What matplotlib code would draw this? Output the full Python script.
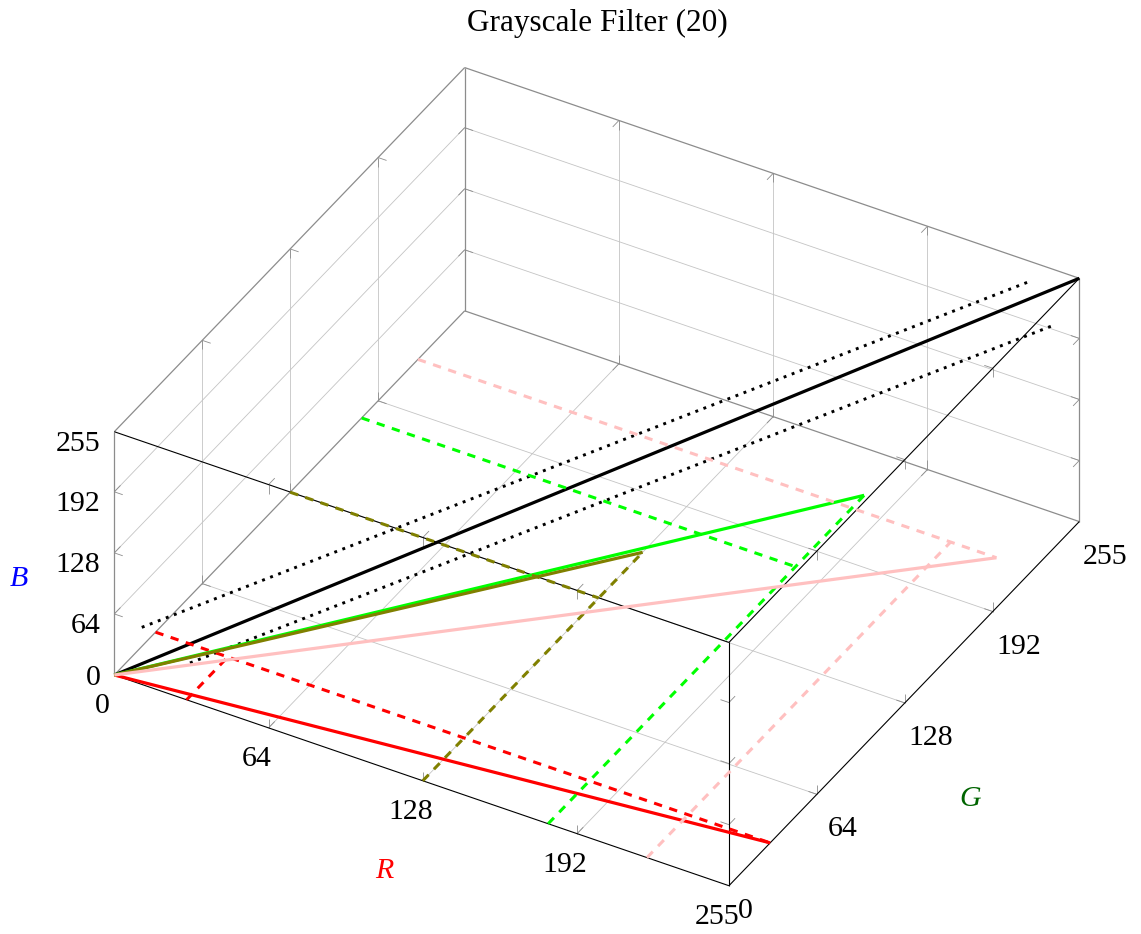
import numpy as np
import matplotlib
matplotlib.use("Agg")
import matplotlib.pyplot as plt
from mpl_toolkits.mplot3d import proj3d
from matplotlib.transforms import IdentityTransform

# ---------------- data ----------------
title = "Grayscale Filter (20)"
tick_values = [0, 64, 128, 192, 255]
axis_labels = ["R", "G", "B"]
axis_label_colors = ["#ff0000", "#006400", "#0000ff"]

gray_start = [0, 0, 0]
gray_end = [255, 255, 255]
tol_upper_start = [0, 20, 20]
tol_upper_end = [235, 255, 235]
tol_lower_start = [20, 20, 0]
tol_lower_end = [255, 235, 235]

series_r = [255, 180, 128, 240]
series_g = [30, 230, 160, 221]
series_b = [0, 0, 0, 0]
series_colors = ["#ff0000", "#00ff00", "#808000", "#ffc0c0"]

# ---------------- style ----------------
plt.rcParams["font.family"] = ["Liberation Serif", "DejaVu Serif"]
plt.rcParams["lines.scale_dashes"] = False
plt.rcParams["lines.solid_capstyle"] = "butt"
plt.rcParams["lines.dash_capstyle"] = "butt"

W, H = 1141, 934
fig = plt.figure(figsize=(W / 100, H / 100), dpi=100)
ax = fig.add_axes([0, 0, 1, 1], projection="3d", proj_type="ortho")
ax.computed_zorder = False
ax.set_xlim(0, 255)
ax.set_ylim(0, 255)
ax.set_zlim(0, 255)
ax.set_box_aspect((1.0, 0.9925, 0.4278))
ax.view_init(elev=36.65, azim=-60.13)
ax.set_axis_off()


def to_disp(p):
    xs, ys, _ = proj3d.proj_transform(p[0], p[1], p[2], ax.get_proj())
    return ax.transData.transform((xs, ys))


# fit axes placement so the box lands where the reference has it
fig.canvas.draw()
uO = ax.transAxes.inverted().transform(to_disp((0, 0, 0)))
uC = ax.transAxes.inverted().transform(to_disp((255, 255, 255)))
tO = (114.3, H - 675.0)
tC = (1079.3, H - 278.3)
S = (tC[0] - tO[0]) / (uC[0] - uO[0])
x0 = tO[0] - S * uO[0]
y0 = tO[1] - S * uO[1]
ax.set_position([x0 / W, y0 / H, S / W, S / H])
fig.canvas.draw()

lo, hi = tick_values[0], tick_values[-1]
mids = tick_values[1:-1]

# grid lines (back walls + floor)
gc, glw = "#c4c4c4", 0.6
for v in mids:
    ax.plot([v, v], [lo, hi], [lo, lo], color=gc, lw=glw, zorder=1)
    ax.plot([lo, hi], [v, v], [lo, lo], color=gc, lw=glw, zorder=1)
    ax.plot([lo, lo], [v, v], [lo, hi], color=gc, lw=glw, zorder=1)
    ax.plot([v, v], [hi, hi], [lo, hi], color=gc, lw=glw, zorder=1)
    ax.plot([lo, lo], [lo, hi], [v, v], color=gc, lw=glw, zorder=1)
    ax.plot([lo, hi], [hi, hi], [v, v], color=gc, lw=glw, zorder=1)

# back edges
bc, blw = "#8c8c8c", 0.9
back_edges = [
    ((lo, lo, lo), (lo, lo, hi)),
    ((lo, lo, lo), (lo, hi, lo)),
    ((lo, hi, lo), (hi, hi, lo)),
    ((lo, hi, lo), (lo, hi, hi)),
    ((hi, hi, lo), (hi, hi, hi)),
    ((lo, lo, hi), (lo, hi, hi)),
    ((lo, hi, hi), (hi, hi, hi)),
]
for a, b in back_edges:
    ax.plot([a[0], b[0]], [a[1], b[1]], [a[2], b[2]], color=bc, lw=blw, zorder=2)

# tick marks on every edge, pointing inward
tl = [3.5, 4.5, 9.5]
tc, tlw = "#8c8c8c", 0.6
for axis in range(3):
    others = [i for i in range(3) if i != axis]
    for v in mids:
        for c1 in (lo, hi):
            for c2 in (lo, hi):
                base = [0, 0, 0]
                base[axis] = v
                base[others[0]] = c1
                base[others[1]] = c2
                for k, cval in zip(others, (c1, c2)):
                    end = list(base)
                    end[k] += tl[k] * (1 if cval == lo else -1)
                    ax.plot([base[0], end[0]], [base[1], end[1]], [base[2], end[2]],
                            color=tc, lw=tlw, zorder=2)

# front edges
front_edges = [
    ((lo, lo, lo), (hi, lo, lo)),
    ((hi, lo, lo), (hi, hi, lo)),
    ((hi, lo, lo), (hi, lo, hi)),
    ((lo, lo, hi), (hi, lo, hi)),
    ((hi, lo, hi), (hi, hi, hi)),
]
for a, b in front_edges:
    ax.plot([a[0], b[0]], [a[1], b[1]], [a[2], b[2]], color="black", lw=0.8, zorder=2.5)

# data
LW = 2.3
DASH = (0, (6.0, 5.5))
DOT = (0, (2.1, 4.1))
ax.plot([gray_start[0], gray_end[0]], [gray_start[1], gray_end[1]], [gray_start[2], gray_end[2]],
        color="black", lw=LW, zorder=3)
for s, e in ((tol_upper_start, tol_upper_end), (tol_lower_start, tol_lower_end)):
    ax.plot([s[0], e[0]], [s[1], e[1]], [s[2], e[2]], color="black", lw=2.1,
            linestyle=DOT, zorder=3)

for r, g, b, col in zip(series_r, series_g, series_b, series_colors):
    m = min(r, g)
    ax.plot([0, r], [0, g], [0, b], color=col, lw=LW, zorder=4)
    ax.plot([0, r], [m, m], [b, b], color=col, lw=2.2, linestyle=DASH, zorder=4)
    ax.plot([m, m], [0, g], [b, b], color=col, lw=2.2, linestyle=DASH, zorder=4)

# ---------------- texts ----------------
FS = 21.5


def put_text(p, s, dx, dy, **kw):
    d = to_disp(p)
    fig.text(d[0] + dx, d[1] - dy, s, transform=IdentityTransform(), **kw)


for v in tick_values:
    put_text((v, lo, lo), str(v), -12, 38, ha="center", va="baseline", fontsize=FS)
    if v == lo:
        put_text((hi, v, lo), str(v), 16, 32, ha="center", va="baseline", fontsize=FS)
    else:
        put_text((hi, v, lo), str(v), 26, 42, ha="center", va="baseline", fontsize=FS)
    put_text((lo, lo, v), str(v), -14, 10 if v == lo else 19, ha="right", va="baseline",
             fontsize=FS)

put_text((127.5, lo, lo), axis_labels[0], -37, 98, ha="center", va="baseline",
         fontsize=FS, style="italic", color=axis_label_colors[0])
put_text((hi, 127.5, lo), axis_labels[1], 66, 102, ha="center", va="baseline",
         fontsize=FS, style="italic", color=axis_label_colors[1])
put_text((lo, lo, 127.5), axis_labels[2], -95, 33, ha="center", va="baseline",
         fontsize=FS, style="italic", color=axis_label_colors[2])

fig.text(597 / W, 1 - 30.5 / H, title, ha="center", va="baseline", fontsize=22.5)

fig.savefig("out.png", dpi=100, facecolor="white")
